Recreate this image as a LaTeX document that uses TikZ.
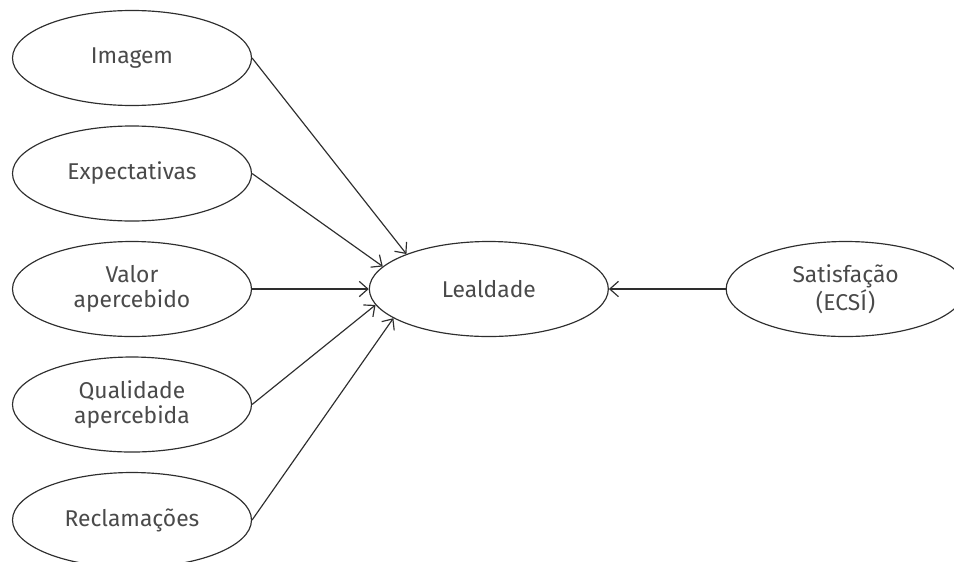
\documentclass[tikz,border=0pt]{standalone}
\usepackage{fontspec}
\setmainfont{Fira Sans}
\usepackage{xcolor}
\usepackage{tikz}
\usetikzlibrary{arrows.meta,positioning,shapes.geometric}

\definecolor{inkgray}{HTML}{2E2E2E}
\definecolor{txtgray}{HTML}{4A4A4A}

\begin{document}
\begin{tikzpicture}[
  node distance=0.58cm and 3.5cm,
  construct/.style={draw=inkgray,ellipse,line width=1pt,inner sep=0pt,
    minimum width=7.17cm,minimum height=2.85cm,align=center,
    text=txtgray,font=\fontsize{19.5}{21}\selectfont},
  every edge/.style={draw=inkgray,line width=1pt,
    -{Straight Barb[length=2.6mm,width=4.6mm]}}
]
\useasboundingbox (-3.96,1.74) rectangle ++(28.62,-16.86);

\node[construct] (img) {Imagem};
\node[construct,below=of img] (expc) {Expectativas};
\node[construct,below=of expc] (valor) {Valor\\apercebido};
\node[construct,below=of valor] (qual) {Qualidade\\apercebida};
\node[construct,below=of qual] (recl) {Reclamações};
\node[construct,right=of valor] (leal) {Lealdade};
\node[construct,right=of leal] (satis) {Satisfação\\(ECSÍ)};

\draw (img.east) edge (leal.157);
\draw (expc.east) edge (leal.168);
\draw (valor.east) edge (leal.west);
\draw (qual.east) edge (leal.188);
\draw (recl.east) edge (leal.197);
\draw (satis.west) edge (leal.east);
\end{tikzpicture}
\end{document}
